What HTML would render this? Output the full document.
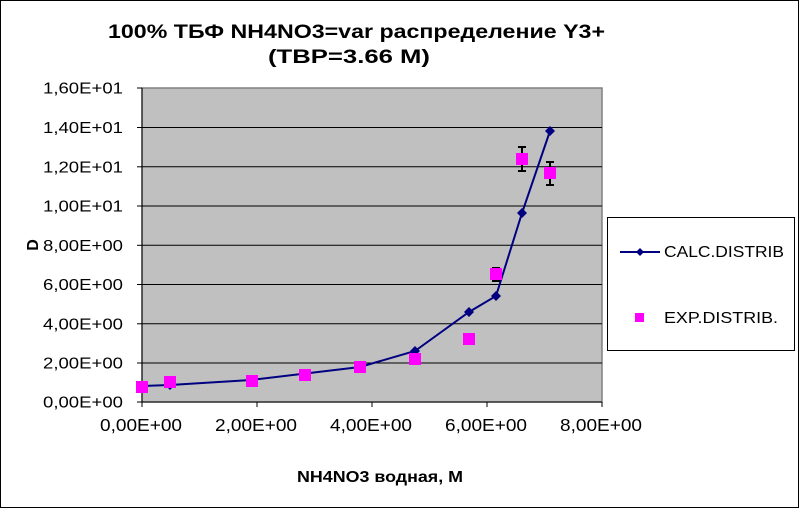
<!DOCTYPE html>
<html><head><meta charset="utf-8"><style>
html,body{margin:0;padding:0;background:#fff}
svg{display:block;font-family:"Liberation Sans",Arial,sans-serif}
</style></head><body>
<svg width="799" height="508" viewBox="0 0 799 508">
<rect x="0.5" y="0.5" width="798" height="507" fill="#fff" stroke="#000"/>
<text x="108" y="38" font-size="19" font-weight="bold" textLength="497" lengthAdjust="spacingAndGlyphs">100%  ТБФ  NH4NO3=var распределение Y3+</text>
<text x="268" y="63" font-size="19" font-weight="bold" textLength="162" lengthAdjust="spacingAndGlyphs">(ТВР=3.66 М)</text>
<rect x="142" y="88" width="460" height="314" fill="#c0c0c0" stroke="#808080" stroke-width="1.5"/>
<g stroke="#000" stroke-width="1">
<line x1="142" y1="127.5" x2="602" y2="127.5"/><line x1="142" y1="166.8" x2="602" y2="166.8"/>
<line x1="142" y1="206" x2="602" y2="206"/><line x1="142" y1="245.3" x2="602" y2="245.3"/>
<line x1="142" y1="284.5" x2="602" y2="284.5"/><line x1="142" y1="323.8" x2="602" y2="323.8"/>
<line x1="142" y1="363" x2="602" y2="363"/>
<line x1="142" y1="88" x2="142" y2="402"/><line x1="142" y1="402" x2="602" y2="402"/>
<line x1="137" y1="88" x2="142" y2="88"/><line x1="137" y1="127.5" x2="142" y2="127.5"/><line x1="137" y1="166.8" x2="142" y2="166.8"/><line x1="137" y1="206" x2="142" y2="206"/><line x1="137" y1="245.3" x2="142" y2="245.3"/><line x1="137" y1="284.5" x2="142" y2="284.5"/><line x1="137" y1="323.8" x2="142" y2="323.8"/><line x1="137" y1="363" x2="142" y2="363"/><line x1="137" y1="402" x2="142" y2="402"/>
<line x1="142" y1="402" x2="142" y2="407"/><line x1="257" y1="402" x2="257" y2="407"/><line x1="372" y1="402" x2="372" y2="407"/><line x1="487" y1="402" x2="487" y2="407"/><line x1="602" y1="402" x2="602" y2="407"/>
</g>
<g font-size="16">
<text x="43" y="93.5" textLength="80" lengthAdjust="spacingAndGlyphs">1,60E+01</text>
<text x="43" y="133" textLength="80" lengthAdjust="spacingAndGlyphs">1,40E+01</text>
<text x="43" y="172.3" textLength="80" lengthAdjust="spacingAndGlyphs">1,20E+01</text>
<text x="43" y="211.5" textLength="80" lengthAdjust="spacingAndGlyphs">1,00E+01</text>
<text x="43" y="250.8" textLength="80" lengthAdjust="spacingAndGlyphs">8,00E+00</text>
<text x="43" y="290" textLength="80" lengthAdjust="spacingAndGlyphs">6,00E+00</text>
<text x="43" y="329.3" textLength="80" lengthAdjust="spacingAndGlyphs">4,00E+00</text>
<text x="43" y="368.5" textLength="80" lengthAdjust="spacingAndGlyphs">2,00E+00</text>
<text x="43" y="407.5" textLength="80" lengthAdjust="spacingAndGlyphs">0,00E+00</text>
</g>
<g font-size="17.5">
<text x="100" y="431" textLength="82" lengthAdjust="spacingAndGlyphs">0,00E+00</text>
<text x="215" y="431" textLength="82" lengthAdjust="spacingAndGlyphs">2,00E+00</text>
<text x="330" y="431" textLength="82" lengthAdjust="spacingAndGlyphs">4,00E+00</text>
<text x="445" y="431" textLength="82" lengthAdjust="spacingAndGlyphs">6,00E+00</text>
<text x="560" y="431" textLength="82" lengthAdjust="spacingAndGlyphs">8,00E+00</text>
</g>
<text x="297" y="482" font-size="16" font-weight="bold" textLength="166" lengthAdjust="spacingAndGlyphs">NH4NO3  водная, М</text>
<text x="38" y="245" font-size="16" font-weight="bold" text-anchor="middle" transform="rotate(-90 38 245)">D</text>
<polyline fill="none" stroke="#000080" stroke-width="2" points="142,386 170,385 251,380 360,367 415,351 469,312 496,296 522,213 550,131"/>
<g fill="#000080">
<path d="M142,381l5,5l-5,5l-5,-5z"/><path d="M170,380l5,5l-5,5l-5,-5z"/><path d="M251,375l5,5l-5,5l-5,-5z"/><path d="M360,362l5,5l-5,5l-5,-5z"/><path d="M415,346l5,5l-5,5l-5,-5z"/><path d="M469,307l5,5l-5,5l-5,-5z"/><path d="M496,291l5,5l-5,5l-5,-5z"/><path d="M522,208l5,5l-5,5l-5,-5z"/><path d="M550,126l5,5l-5,5l-5,-5z"/>
</g>
<g stroke="#000" stroke-width="2">
<line x1="522" y1="147" x2="522" y2="171"/><line x1="518" y1="147" x2="526" y2="147"/><line x1="518" y1="171" x2="526" y2="171"/>
<line x1="550" y1="162" x2="550" y2="185"/><line x1="546" y1="162" x2="554" y2="162"/><line x1="546" y1="185" x2="554" y2="185"/>
<line x1="492" y1="268" x2="500" y2="268"/><line x1="492" y1="281" x2="500" y2="281"/>
</g>
<g fill="#ff00ff">
<rect x="136" y="381" width="12" height="12"/><rect x="164" y="376" width="12" height="12"/><rect x="246" y="375" width="12" height="12"/><rect x="299" y="369" width="12" height="12"/><rect x="354" y="361" width="12" height="12"/><rect x="409" y="353" width="12" height="12"/><rect x="463" y="333" width="12" height="12"/><rect x="490" y="268" width="12" height="12"/><rect x="516" y="153" width="12" height="12"/><rect x="544" y="167" width="12" height="12"/>
</g>
<rect x="607.5" y="217.5" width="187" height="133" fill="#fff" stroke="#000"/>
<line x1="620" y1="252" x2="660" y2="252" stroke="#000080" stroke-width="2"/>
<path d="M640,248l4,4l-4,4l-4,-4z" fill="#000080"/>
<text x="664" y="257" font-size="16" textLength="120" lengthAdjust="spacingAndGlyphs">CALC.DISTRIB</text>
<rect x="635" y="313" width="9" height="9" fill="#ff00ff"/>
<text x="664" y="323" font-size="16" textLength="114" lengthAdjust="spacingAndGlyphs">EXP.DISTRIB.</text>
</svg>
</body></html>
